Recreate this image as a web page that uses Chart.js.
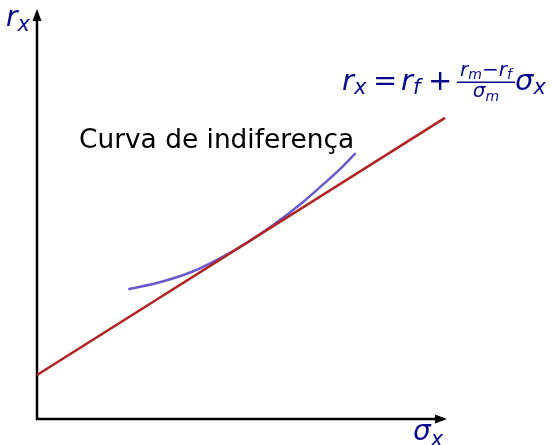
<!DOCTYPE html>
<html>
<head>
<meta charset="utf-8">
<script src="https://cdn.jsdelivr.net/npm/chart.js@4.4.1/dist/chart.umd.min.js"></script>
<style>
  html, body { margin: 0; padding: 0; background: #fff; }
  #wrap { width: 552px; height: 445px; }
</style>
</head>
<body>
<div id="wrap"><canvas id="myChart" width="552" height="445"></canvas></div>
<script>
// reta (linha do mercado de capitais)
let retaX = [0, 10];
let retaY = [1.08, 7.40];

// curva de indiferença
let curvaX = [2.24, 3.01, 3.83, 4.65, 5.22, 5.71, 6.53, 7.10, 7.51, 7.81];
let curvaY = [3.19, 3.36, 3.63, 4.04, 4.38, 4.71, 5.34, 5.84, 6.22, 6.53];

let eixoMax = 10;
let rotuloCurva = "Curva de indiferença";

const azul = "#0a0a8c";
const fonte = "'DejaVu Sans'";

function pontos(xs, ys) {
    return xs.map((x, i) => ({ x: x, y: ys[i] }));
}

// desenha texto em sequencia, devolve x final
function seq(ctx, partes, x) {
    for (let p of partes) {
        ctx.font = (p.it ? "italic " : "") + p.s + "px " + fonte;
        ctx.fillText(p.t, x, p.y);
        x += ctx.measureText(p.t).width;
    }
    return x;
}
function largura(ctx, partes) {
    let w = 0;
    for (let p of partes) {
        ctx.font = (p.it ? "italic " : "") + p.s + "px " + fonte;
        w += ctx.measureText(p.t).width;
    }
    return w;
}

const eixos = {
    id: "eixos",
    beforeDatasetsDraw(chart) {
        const ctx = chart.ctx;
        const xs = chart.scales.x, ys = chart.scales.y;
        const x0 = xs.getPixelForValue(0), y0 = ys.getPixelForValue(0);
        const xe = xs.getPixelForValue(eixoMax), ye = ys.getPixelForValue(eixoMax);
        ctx.save();
        ctx.strokeStyle = "#000";
        ctx.fillStyle = "#000";
        ctx.lineWidth = 2.5;
        ctx.beginPath();
        ctx.moveTo(x0, ye + 2);
        ctx.lineTo(x0, y0);
        ctx.lineTo(xe - 1, y0);
        ctx.stroke();
        // setas
        ctx.beginPath();
        ctx.moveTo(x0, ye - 3);
        ctx.lineTo(x0 - 4.5, ye + 9);
        ctx.lineTo(x0 + 4.5, ye + 9);
        ctx.closePath();
        ctx.fill();
        ctx.beginPath();
        ctx.moveTo(xe + 2, y0);
        ctx.lineTo(xe - 10, y0 - 4.5);
        ctx.lineTo(xe - 10, y0 + 4.5);
        ctx.closePath();
        ctx.fill();
        ctx.restore();
    },
    afterDraw(chart) {
        const ctx = chart.ctx;
        ctx.save();
        ctx.textAlign = "left";
        ctx.textBaseline = "alphabetic";
        ctx.fillStyle = azul;
        // rotulos dos eixos
        seq(ctx, [{ t: "r", it: true, s: 28, y: 26 }, { t: "x", it: true, s: 21, y: 31 }], 6);
        seq(ctx, [{ t: "σ", it: true, s: 28, y: 440 }, { t: "x", it: true, s: 21, y: 446 }], 413);

        // formula
        seq(ctx, [{ t: "r", it: true, s: 29, y: 90 }, { t: "x", it: true, s: 21, y: 94 }], 342);
        seq(ctx, [{ t: "=", s: 29, y: 90 }], 373);
        seq(ctx, [{ t: "r", it: true, s: 29, y: 90 }, { t: "f", it: true, s: 21, y: 94 }], 401);
        seq(ctx, [{ t: "+", s: 29, y: 90 }], 428);
        const num = [
            { t: "r", it: true, s: 20, y: 76 }, { t: "m", it: true, s: 14, y: 79 },
            { t: "−", s: 20, y: 76 },
            { t: "r", it: true, s: 20, y: 76 }, { t: "f", it: true, s: 14, y: 79 }
        ];
        const den = [{ t: "σ", it: true, s: 20, y: 97 }, { t: "m", it: true, s: 14, y: 101 }];
        const cx = 486;
        seq(ctx, num, cx - largura(ctx, num) / 2);
        seq(ctx, den, cx - largura(ctx, den) / 2);
        ctx.fillRect(457, 81.5, 58, 1.5);
        seq(ctx, [{ t: "σ", it: true, s: 29, y: 90 }, { t: "x", it: true, s: 21, y: 94 }], 515);

        // rotulo da curva
        ctx.fillStyle = "#000";
        ctx.font = "26.4px " + fonte;
        ctx.fillText(rotuloCurva, 79, 148);
        ctx.restore();
    }
};

let chart = new Chart("myChart", {
    type: "scatter",
    data: {
        datasets: [{
            label: "reta",
            data: pontos(retaX, retaY),
            showLine: true,
            borderColor: "#b22222",
            borderWidth: 2.5,
            pointRadius: 0,
            clip: false
        }, {
            label: "curva",
            data: pontos(curvaX, curvaY),
            showLine: true,
            borderColor: "#6a5acd",
            borderWidth: 2.5,
            pointRadius: 0,
            cubicInterpolationMode: "monotone",
            clip: false
        }]
    },
    options: {
        responsive: false,
        animation: false,
        devicePixelRatio: 1,
        layout: { padding: { left: 37, right: 107, top: 12, bottom: 26 } },
        plugins: { legend: { display: false }, tooltip: { enabled: false } },
        scales: {
            x: { type: "linear", min: 0, max: eixoMax, display: false },
            y: { type: "linear", min: 0, max: eixoMax, display: false }
        }
    },
    plugins: [eixos]
});
</script>
</body>
</html>
